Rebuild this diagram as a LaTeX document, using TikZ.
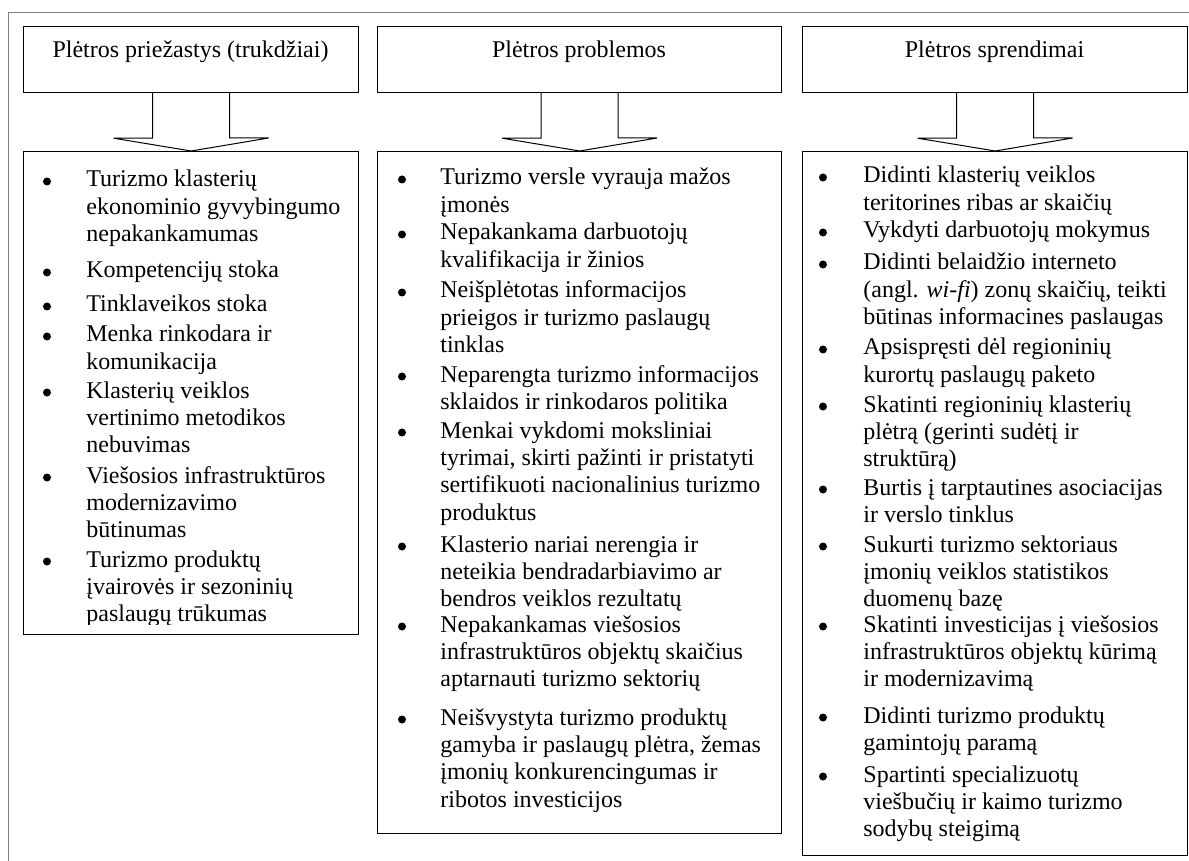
\documentclass[tikz,border=0pt]{standalone}
\usepackage{fontspec}
\setmainfont{Liberation Serif}
\usetikzlibrary{positioning}
\definecolor{framegray}{RGB}{128,128,128}
\newcommand\lines[1]{\begin{tabular}[t]{@{}l@{}}#1\end{tabular}}
\tikzset{
  headbox/.style={draw,line width=0.6pt,anchor=north west,inner sep=0pt,minimum height=33pt},
  listbox/.style={draw,line width=0.6pt,anchor=north west,inner sep=0pt},
  headtext/.style={anchor=base,inner sep=0pt,font=\fontsize{12}{13.7}\selectfont},
  itemtext/.style={anchor=base west,inner sep=0pt,font=\fontsize{12}{13.7}\selectfont},
  bulletmark/.style={circle,fill,inner sep=0pt,minimum size=4pt},
  blockarrow/.style={line width=0.5pt,line join=miter}
}

\begin{document}
\begin{tikzpicture}[x=0.5pt,y=-0.5pt]
\useasboundingbox (0,0) rectangle (1189,861);
% The outer frame
\draw[framegray,line width=0.5pt] (8.5,861) -- (8.5,12.5) -- (1189,12.5);
% The head boxes
\node[headbox,minimum width=167.5pt] (h1) at (23,26) {};
\node[headbox,minimum width=202pt] (h2) at (377,26) {};
\node[headbox,minimum width=192.5pt] (h3) at (802,26) {};
\node[headtext] (t1) at (190.5,58) {Plėtros priežastys (trukdžiai)};
\node[headtext] (t2) at (579,58) {Plėtros problemos};
\node[headtext] (t3) at (994.5,58) {Plėtros sprendimai};
% The list boxes
\node[listbox,minimum width=167.5pt,minimum height=241.5pt] (l1) at (23,151) {};
\node[listbox,minimum width=202pt,minimum height=341pt] (l2) at (377,151) {};
\node[listbox,minimum width=192.5pt,minimum height=352pt] (l3) at (802,151) {};
% The block arrows
\foreach \c in {1,2,3}
  \draw[blockarrow] ([xshift=-19.25pt]h\c.south) -- ++(0,45) -- ++(-39,0)
    -- (l\c.north) -- ++(77.5,-13) -- ++(-39,0) -- ([xshift=19.25pt]h\c.south);
% Causes
\begin{scope}
\clip (23,151) rectangle (358,624);
\foreach \y/\t [count=\i] in {
  187/{Turizmo klasterių\\ekonominio gyvybingumo\\nepakankamumas},
  278/{Kompetencijų stoka},
  312/{Tinklaveikos stoka},
  342/{Menka rinkodara ir\\komunikacija},
  398/{Klasterių veiklos\\vertinimo metodikos\\nebuvimas},
  483/{Viešosios infrastruktūros\\modernizavimo\\būtinumas},
  567/{Turizmo produktų\\įvairovės ir sezoninių\\paslaugų trūkumas}}
{
  \node[bulletmark] (b1-\i) at (47,\y-5.5) {};
  \node[itemtext] (i1-\i) at (86,\y) {\lines{\t}};
}
\end{scope}
% Problems
\foreach \y/\t [count=\i] in {
  185/{Turizmo versle vyrauja mažos\\įmonės},
  240/{Nepakankama darbuotojų\\kvalifikacija ir žinios},
  298/{Neišplėtotas informacijos\\prieigos ir turizmo paslaugų\\tinklas},
  382/{Neparengta turizmo informacijos\\sklaidos ir rinkodaros politika},
  438/{Menkai vykdomi moksliniai\\tyrimai, skirti pažinti ir pristatyti\\sertifikuoti nacionalinius turizmo\\produktus},
  552/{Klasterio nariai nerengia ir\\neteikia bendradarbiavimo ar\\bendros veiklos rezultatų},
  632/{Nepakankamas viešosios\\infrastruktūros objektų skaičius\\aptarnauti turizmo sektorių},
  725/{Neišvystyta turizmo produktų\\gamyba ir paslaugų plėtra, žemas\\įmonių konkurencingumas ir\\ribotos investicijos}}
{
  \node[bulletmark] (b2-\i) at (402,\y-5.5) {};
  \node[itemtext] (i2-\i) at (440,\y) {\lines{\t}};
}
% Solutions
\foreach \y/\t [count=\i] in {
  183/{Didinti klasterių veiklos\\teritorines ribas ar skaičių},
  238/{Vykdyti darbuotojų mokymus},
  270/{Didinti belaidžio interneto\\(angl. \textit{wi-fi}) zonų skaičių, teikti\\būtinas informacines paslaugas},
  355/{Apsispręsti dėl regioninių\\kurortų paslaugų paketo},
  412/{Skatinti regioninių klasterių\\plėtrą (gerinti sudėtį ir\\struktūrą)},
  495/{Burtis į tarptautines asociacijas\\ir verslo tinklus},
  552/{Sukurti turizmo sektoriaus\\įmonių veiklos statistikos\\duomenų bazę},
  632/{Skatinti investicijas į viešosios\\infrastruktūros objektų kūrimą\\ir modernizavimą},
  723/{Didinti turizmo produktų\\gamintojų paramą},
  782/{Spartinti specializuotų\\viešbučių ir kaimo turizmo\\sodybų steigimą}}
{
  \node[bulletmark] (b3-\i) at (823,\y-5.5) {};
  \node[itemtext] (i3-\i) at (863,\y) {\lines{\t}};
}
\end{tikzpicture}
\end{document}
